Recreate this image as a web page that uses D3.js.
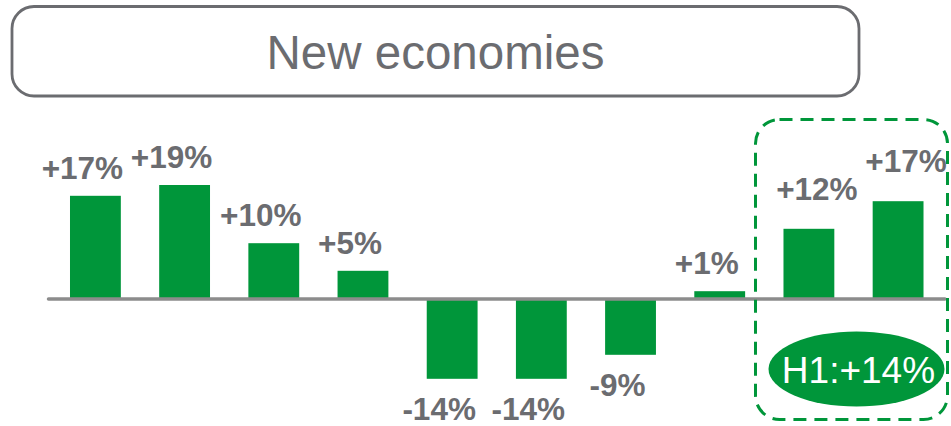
<!DOCTYPE html>
<html>
<head>
<meta charset="utf-8">
<script src="https://cdn.jsdelivr.net/npm/d3@7"></script>
<style>
  html, body { margin: 0; padding: 0; background: #ffffff; }
  svg { display: block; }
</style>
</head>
<body>
<svg id="chart" width="951" height="426"></svg>
<script>
// ---- data ----
const title = "New economies";
const categories = ["Q1 19", "Q2 19", "Q3 19", "Q4 19", "Q1 20", "Q2 20", "Q3 20", "Q4 20", "Q1 21", "Q2 21"];
const values = [17.2, 19.0, 9.3, 4.7, -13.3, -13.3, -9.3, 1.3, 11.7, 16.3];
const labels = ["+17%", "+19%", "+10%", "+5%", "-14%", "-14%", "-9%", "+1%", "+12%", "+17%"];
const highlighted = ["Q1 21", "Q2 21"];
const highlightLabel = "H1:+14%";

// ---- style ----
const green = "#00963a";
const gray = "#6b6c70";
const axisGray = "#8c8c8c";
const font = "'Liberation Sans', Arial, Helvetica, sans-serif";

const svg = d3.select("#chart");

// Title box
svg.append("rect")
  .attr("x", 12).attr("y", 6.5).attr("width", 847).attr("height", 89.5)
  .attr("rx", 22).attr("ry", 22)
  .attr("fill", "#fff").attr("stroke", gray).attr("stroke-width", 2.8);
svg.append("text")
  .attr("x", 435.5).attr("y", 68.5)
  .attr("text-anchor", "middle")
  .attr("font-family", font).attr("font-size", 47.5)
  .attr("fill", gray)
  .text(title);

// Scales
const x = d3.scaleBand()
  .domain(categories)
  .range([48.5, 945])
  .paddingInner(0.43)
  .paddingOuter(0.241);
const y = d3.scaleLinear().domain([-20, 20]).range([419, 179]);

// Bars
svg.append("g").selectAll("rect")
  .data(categories)
  .join("rect")
  .attr("x", d => x(d))
  .attr("width", x.bandwidth())
  .attr("y", (d, i) => Math.min(y(values[i]), y(0)))
  .attr("height", (d, i) => Math.abs(y(values[i]) - y(0)))
  .attr("fill", green);

// Zero line
svg.append("line")
  .attr("x1", x.range()[0]).attr("x2", x.range()[1])
  .attr("y1", y(0)).attr("y2", y(0))
  .attr("stroke", axisGray).attr("stroke-width", 3.5)
  .attr("stroke-linecap", "round");

// Value labels
const isHi = d => highlighted.includes(d);
svg.append("g").selectAll("text")
  .data(categories)
  .join("text")
  .attr("x", d => x(d) + x.bandwidth() / 2 + (isHi(d) ? 8 : -13))
  .attr("y", (d, i) => values[i] >= 0
      ? y(values[i]) - (isHi(d) ? 29 : 17)
      : y(values[i]) + 41)
  .attr("text-anchor", "middle")
  .attr("font-family", font).attr("font-size", 31.5).attr("font-weight", "bold")
  .attr("fill", gray)
  .text((d, i) => labels[i]);

// Highlight dashed box
svg.append("rect")
  .attr("x", 755.5).attr("y", 119.5).attr("width", 192).attr("height", 300)
  .attr("rx", 24).attr("ry", 24)
  .attr("fill", "none").attr("stroke", green).attr("stroke-width", 3)
  .attr("stroke-dasharray", "13,8");

// H1 ellipse
const hx = (x(highlighted[0]) + x(highlighted[1]) + x.bandwidth()) / 2;
svg.append("ellipse")
  .attr("cx", hx + 3).attr("cy", 369).attr("rx", 88).attr("ry", 37.5)
  .attr("fill", green);
svg.append("text")
  .attr("x", hx + 5).attr("y", 382.5)
  .attr("text-anchor", "middle")
  .attr("font-family", font).attr("font-size", 37)
  .attr("fill", "#ffffff")
  .text(highlightLabel);
</script>
</body>
</html>
